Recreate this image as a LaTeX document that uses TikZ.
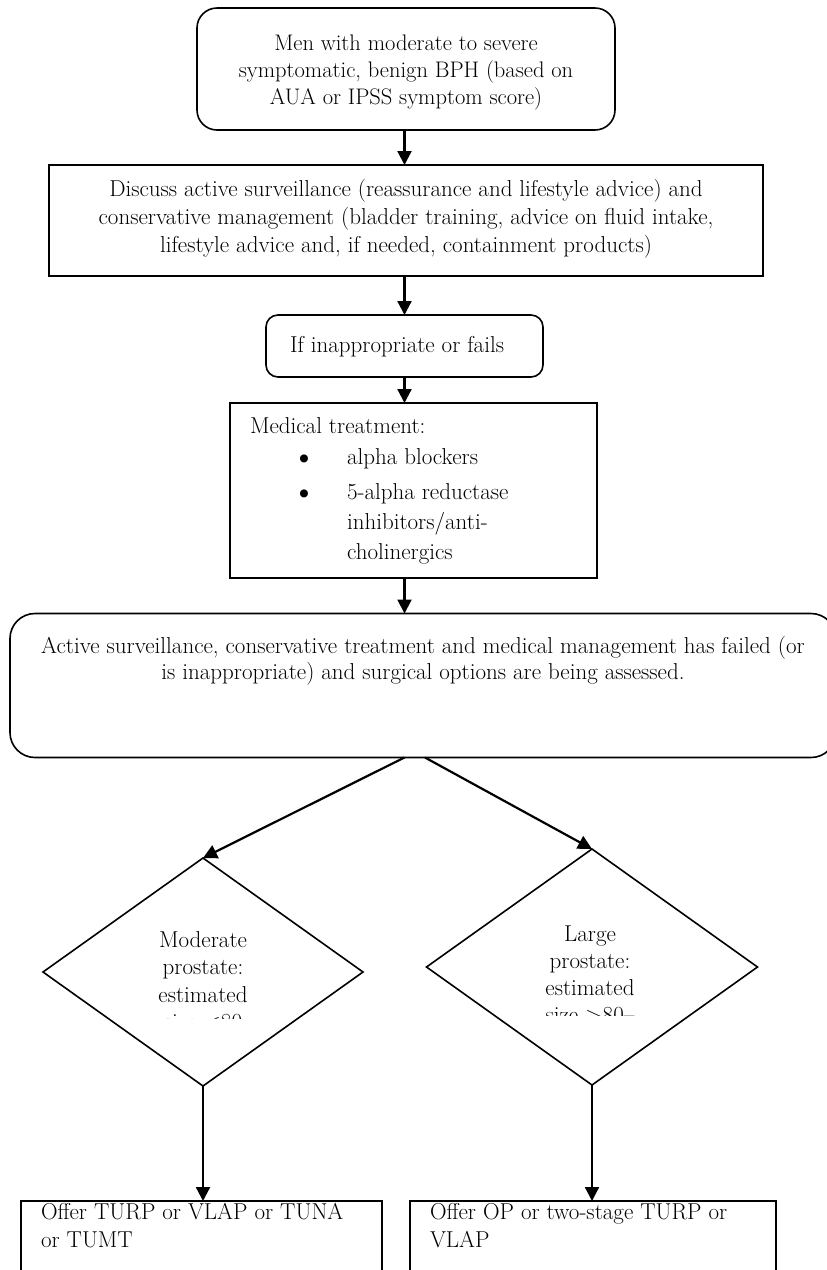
\documentclass[tikz,border=0pt]{standalone}
\usetikzlibrary{arrows.meta,shapes.geometric}
\begin{document}
\begin{tikzpicture}[x=1pt,y=-1pt,
  box/.style={draw, line width=1.6pt, inner sep=0pt, outer sep=0pt},
  rbox/.style={box, rounded corners=#1},
  dia/.style={draw, line width=1.6pt, diamond, inner sep=0pt, outer sep=0pt},
  arr/.style={line width=2.2pt, -{Triangle[length=14pt,width=14pt]}},
  txt/.style={inner sep=0pt, outer sep=0pt, font=\fontsize{23}{28}\selectfont},
  bul/.style={inner sep=0pt, outer sep=0pt, font=\fontsize{36}{36}\selectfont},
]
\useasboundingbox (0,0) rectangle (827,1270);

% boxes
\node[rbox=20pt, minimum width=418pt, minimum height=122pt] (n1) at (406,69) {};
\node[box, minimum width=714pt, minimum height=111pt] (n2) at (406,220.5) {};
\node[rbox=12pt, minimum width=277pt, minimum height=62pt] (n3) at (404.5,346) {};
\node[box, minimum width=367pt, minimum height=175pt] (n4) at (413.5,490.5) {};
\node[rbox=25pt, minimum width=826pt, minimum height=144pt] (n5) at (423,685.5) {};
\node[dia, minimum width=320pt, minimum height=228pt] (d1) at (203,972) {};
\node[dia, minimum width=331pt, minimum height=236pt] (d2) at (592,967) {};
\node[box, minimum width=361pt, minimum height=120pt] (b6) at (201.5,1261) {};
\node[box, minimum width=366pt, minimum height=120pt] (b7) at (593,1261) {};

% texts (anchor = baseline of the last line)
\node[txt, align=center, anchor=base, font=\fontsize{22.5}{27}\selectfont] (t1) at (406,104)
  {Men with moderate to severe\\symptomatic, benign BPH (based on\\AUA or IPSS symptom score)};
\node[txt, align=center, anchor=base] (t2) at (406,252)
  {Discuss active surveillance (reassurance and lifestyle advice) and\\conservative management (bladder training, advice on fluid intake,\\lifestyle advice and, if needed, containment products)};
\node[txt, anchor=base west] (t3) at (290,352) {If inappropriate or fails};
\node[txt, anchor=base west] (t4) at (250,433) {Medical treatment:};
\node[bul, anchor=base] (k1) at (304,468) {\textbullet};
\node[bul, anchor=base] (k2) at (304,503) {\textbullet};
\node[txt, anchor=base west] (i1) at (347,464) {alpha blockers};
\node[txt, anchor=base west, align=left, font=\fontsize{23}{30}\selectfont] (i2) at (347,559)
  {5-alpha reductase\\inhibitors/anti-\\cholinergics};
\node[txt, align=center, anchor=base, font=\fontsize{23}{25.5}\selectfont] (t5) at (423,679)
  {Active surveillance, conservative treatment and medical management has failed (or\\is inappropriate) and surgical options are being assessed.};
\begin{scope}
  \clip (100,900) rectangle (310,1018);
  \node[txt, align=center, anchor=base, font=\fontsize{23}{27.5}\selectfont] (t6) at (203,1029.5)
    {Moderate\\prostate:\\estimated\\size <80};
\end{scope}
\begin{scope}
  \clip (490,900) rectangle (700,1015);
  \node[txt, align=center, anchor=base, font=\fontsize{23}{27}\selectfont] (t7) at (590,1022)
    {Large\\prostate:\\estimated\\size >80--};
\end{scope}
\node[txt, align=left, anchor=base west] (t8) at (41,1247) {Offer TURP or VLAP or TUNA\\or TUMT};
\node[txt, align=left, anchor=base west] (t9) at (430,1247) {Offer OP or two-stage TURP or\\VLAP};

% connectors
\draw[arr] (n3.north |- n1.south) -- (n3.north |- n2.north);
\draw[arr] (n3.north |- n2.south) -- (n3.north);
\draw[arr] (n3.south) -- (n3.south |- n4.north);
\draw[arr] (n3.south |- n4.south) -- (n3.south |- n5.north);
\draw[arr] (n3.south |- n5.south) -- (d1.north);
\draw[arr] ([xshift=2pt]n5.south) -- (d2.north);
\draw[arr] (d1.south) -- (d1.south |- b6.north);
\draw[arr] (d2.south) -- (d2.south |- b7.north);
\end{tikzpicture}
\end{document}
